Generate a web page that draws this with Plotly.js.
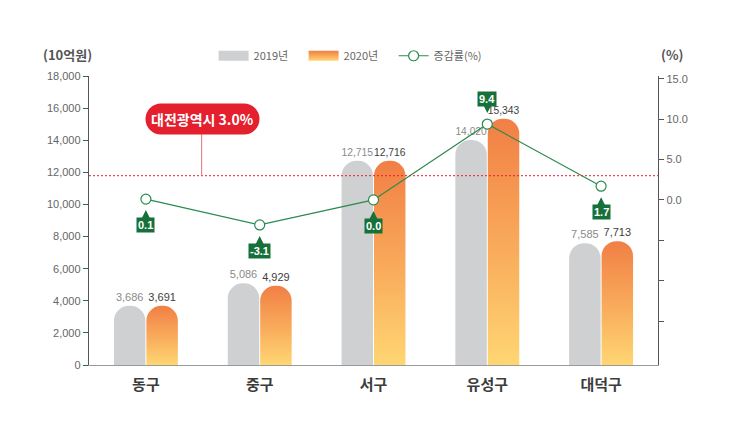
<!DOCTYPE html>
<html><head><meta charset="utf-8">
<script src="https://cdn.plot.ly/plotly-3.0.1.min.js"></script>
<style>html,body{margin:0;padding:0;background:#fff}</style>
</head><body>
<div id="chart" style="width:730px;height:437px"></div>
<script>
const categories = ['동구','중구','서구','유성구','대덕구'];
const values2019 = [3686, 5086, 12715, 14020, 7585];
const values2020 = [3691, 4929, 12716, 15343, 7713];
const changeRate = [0.1, -3.1, 0.0, 9.4, 1.7];
const rateLabels = ['0.1','-3.1','0.0','9.4','1.7'];
const cityRate = 3.0;
const cityLabel = '대전광역시 3.0%';
const seriesNames = ['2019년','2020년','증감률(%)'];

const FONT = 'Liberation Sans, Noto Sans CJK KR, sans-serif';
const KFONT = 'Noto Sans CJK KR, Liberation Sans, sans-serif';
const GREEN = '#2a8a4e';
const BOXGREEN = '#16703a';

const traces = [
  {type:'bar', name:seriesNames[0], x:categories, y:values2019,
   marker:{color:'#cfd0d1', cornerradius:'50%'},
   text:values2019.map(v=>v.toLocaleString('en-US')), textposition:'outside',
   textfont:{family:FONT, size:11, color:'#8a8a8a'}, cliponaxis:false},
  {type:'bar', name:seriesNames[1], x:categories, y:values2020,
   marker:{color:'#f4924e', cornerradius:'50%'},
   text:values2020.map(v=>v.toLocaleString('en-US')), textposition:'outside',
   textfont:{family:FONT, size:11, color:'#3e3e3e'}, cliponaxis:false},
  {type:'scatter', mode:'lines+markers', name:seriesNames[2], x:categories, y:changeRate, yaxis:'y2',
   line:{color:GREEN, width:1.2},
   marker:{size:10, color:'#fff', line:{color:GREEN, width:1.2}}, cliponaxis:false}
];

const annotations = categories.map((c,i)=>({
  x:c, y:changeRate[i], xref:'x', yref:'y2', text:'<b>'+rateLabels[i]+'</b>',
  showarrow:true, ax:0, ay: changeRate[i] > 5 ? -25 : 26,
  arrowhead:2, arrowsize:1.2, arrowwidth:1.5, arrowcolor:BOXGREEN, standoff:11,
  bgcolor:BOXGREEN, borderpad:1, font:{family:FONT, size:11, color:'#fff'}
}));
annotations.push({
  x:0.5, y:10.0, xref:'x', yref:'y2', text:'<b>'+cityLabel+'</b>', showarrow:false,
  bgcolor:'#e5202e', borderpad:5, font:{family:KFONT, size:14, color:'#fff'}
});
annotations.push({x:-0.037, y:1.073, xref:'paper', yref:'paper', xanchor:'center', yanchor:'middle',
  text:'<b>(10억원)</b>', showarrow:false, font:{family:KFONT, size:13, color:'#555'}});
annotations.push({x:1.025, y:1.073, xref:'paper', yref:'paper', xanchor:'center', yanchor:'middle',
  text:'<b>(%)</b>', showarrow:false, font:{family:KFONT, size:13, color:'#555'}});

const layout = {
  width:730, height:437,
  margin:{l:89, r:72, t:76, b:72},
  paper_bgcolor:'#fff', plot_bgcolor:'#fff',
  barmode:'group', bargap:0.43, bargroupgap:0.03,
  showlegend:true,
  legend:{orientation:'h', x:0.219, y:1.07, xanchor:'left', yanchor:'middle',
    entrywidth:45, entrywidthmode:'pixels',
    font:{family:KFONT, size:11, color:'#666'}, traceorder:'normal'},
  xaxis:{type:'category', range:[-0.5,4.5], showline:true, linecolor:'#9a9a9a', linewidth:1,
    ticks:'', tickfont:{family:KFONT, size:15, color:'#3c3c3c', weight:'bold'}, ticklabelstandoff:6,
    showgrid:false, fixedrange:true},
  yaxis:{range:[0,18000], dtick:2000, tickformat:',', ticks:'outside', ticklen:5, tickcolor:'#555',
    showline:true, linecolor:'#555', linewidth:1.2, showgrid:false, zeroline:false,
    tickfont:{family:FONT, size:11, color:'#666'}},
  yaxis2:{overlaying:'y', side:'right', range:[-20.45,15.35],
    tickvals:[-15,-10,-5,0,5,10,15], ticktext:['','','','0.0','5.0','10.0','15.0'],
    ticks:'outside', ticklen:5, tickcolor:'#555', showline:true, linecolor:'#555', linewidth:1.2,
    showgrid:false, zeroline:false, tickfont:{family:FONT, size:11, color:'#666'}},
  shapes:[
    {type:'line', xref:'paper', x0:0, x1:1, yref:'y2', y0:cityRate, y1:cityRate,
     line:{color:'#ee1c25', width:1, dash:'2px,2px'}, layer:'above'},
    {type:'line', xref:'x', x0:0.49, x1:0.49, yref:'y2', y0:cityRate, y1:9,
     line:{color:'#e5707a', width:1}, layer:'above'}
  ],
  annotations:annotations
};

Plotly.newPlot('chart', traces, layout, {displayModeBar:false, staticPlot:true}).then(()=>{
  const svg = document.querySelector('#chart .main-svg');
  const ns = 'http://www.w3.org/2000/svg';
  let defs = svg.querySelector('defs');
  if(!defs){ defs = document.createElementNS(ns,'defs'); svg.insertBefore(defs, svg.firstChild); }
  const g = document.createElementNS(ns,'linearGradient');
  g.setAttribute('id','orangeGrad'); g.setAttribute('x1','0'); g.setAttribute('y1','0');
  g.setAttribute('x2','0'); g.setAttribute('y2','1');
  [['0','#f17f45'],['0.55','#f9ad5c'],['1','#ffd673']].forEach(([o,c])=>{
    const s = document.createElementNS(ns,'stop'); s.setAttribute('offset',o); s.setAttribute('stop-color',c); g.appendChild(s);
  });
  defs.appendChild(g);
  const barTraces = document.querySelectorAll('#chart .barlayer .trace');
  if(barTraces[1]) barTraces[1].querySelectorAll('.point path').forEach(p=>{p.style.fill='url(#orangeGrad)';});
  const legendItems = document.querySelectorAll('#chart .legend .traces');
  legendItems.forEach((it,i)=>{
    if(i<2){
      const p = it.querySelector('.legendpoints path');
      if(p){ p.setAttribute('d','M15,5H-15V-5H15Z'); p.style.strokeWidth='0';
        if(i===1) p.style.fill='url(#orangeGrad)'; }
    }
  });
  const anns = document.querySelectorAll('#chart .annotation');
  anns.forEach(a=>{
    const t = a.textContent;
    if(t.indexOf('대전광역시')>=0){
      const r = a.querySelector('rect.bg'); if(r){ const h=+r.getAttribute('height'); r.setAttribute('rx',h/2); r.setAttribute('ry',h/2);} }
  });
});
</script>
</body></html>
